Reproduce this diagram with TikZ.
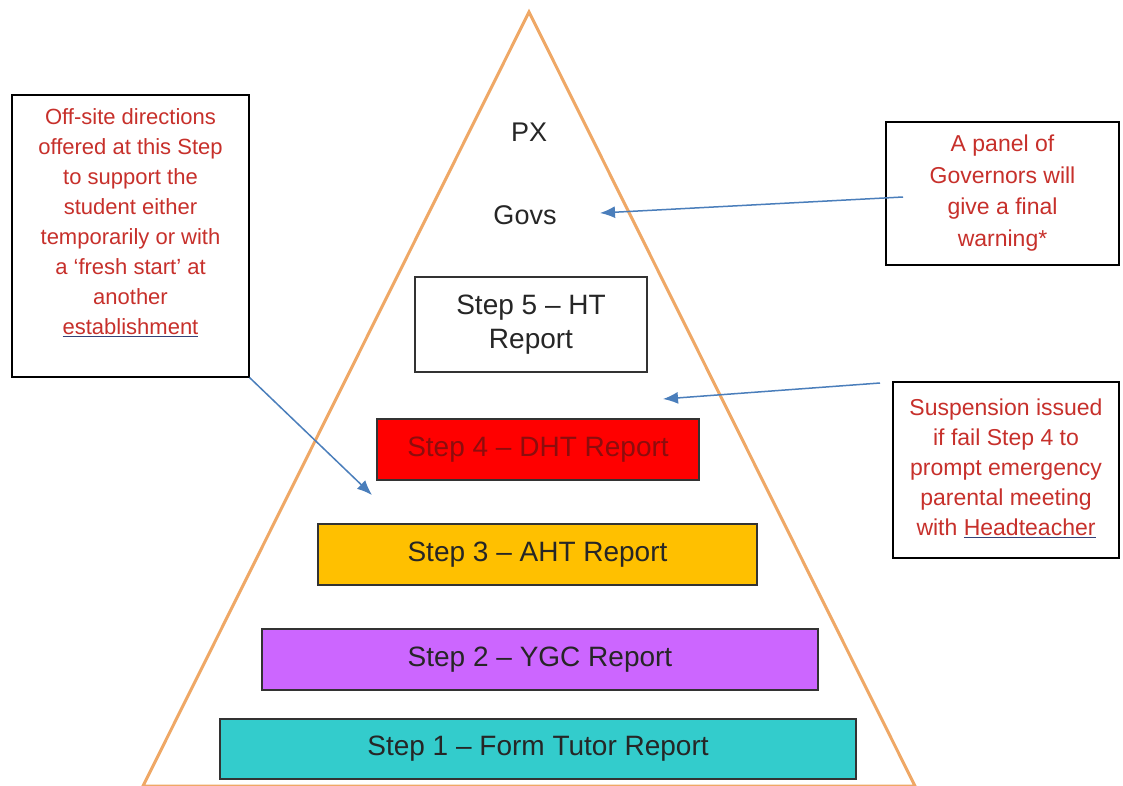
\documentclass[tikz,border=0pt]{standalone}
\usepackage{fontspec}
\setmainfont{Liberation Sans}
\usetikzlibrary{arrows.meta}

\newlength{\du}
\setlength{\du}{1pt}

\definecolor{pyramidline}{rgb}{0.937,0.659,0.400}
\definecolor{pointerblue}{rgb}{0.290,0.494,0.733}
\definecolor{notered}{rgb}{0.780,0.190,0.170}
\definecolor{spellblue}{rgb}{0.200,0.260,0.470}
\definecolor{stepfourfill}{rgb}{1.000,0.000,0.000}
\definecolor{stepthreefill}{rgb}{1.000,0.753,0.000}
\definecolor{steptwofill}{rgb}{0.800,0.400,1.000}
\definecolor{steponefill}{rgb}{0.200,0.800,0.800}
\definecolor{stepfourtext}{rgb}{0.550,0.050,0.050}

\tikzset{
  stepbox/.style={draw=black!80, line width=1.2\du, inner sep=0pt,
    font=\fontsize{28}{34}\selectfont, text=black!85, align=center},
  notebox/.style={draw=black, line width=1.2\du, inner sep=0pt},
  notetext/.style={font=\fontsize{22}{30}\selectfont, text=notered, align=center},
  leveltext/.style={font=\fontsize{27}{32}\selectfont, text=black!85},
  pointer/.style={draw=pointerblue, line width=1.5\du,
    -{Latex[length=15pt,width=12pt]}},
  pyramid/.style={draw=pyramidline, line width=3\du},
}
\newcommand{\spellmark}[1]{{\color{spellblue}\underline{\textcolor{notered}{#1}}}}

\begin{document}
\begin{tikzpicture}
\pgftransformxscale{1.000000}
\pgftransformyscale{-1.000000}
\useasboundingbox (0\du,0\du) rectangle (1123\du,786\du);
\fill[white] (0\du,0\du) rectangle (1123\du,786\du);

% pyramid outline
\draw[pyramid] (529\du,12\du)--(143\du,786\du)--(915\du,786\du)--cycle;

% levels at the top
\node[leveltext] (px) at (529\du,132\du){PX};
\node[leveltext] (govs) at (525\du,215\du){Govs};

% steps
\node[stepbox, fill=white, minimum width=232\du, minimum height=95\du] (stepfive) at (531\du,324.5\du){Step 5 – HT\\Report};
\node[stepbox, fill=stepfourfill, text=stepfourtext, minimum width=322\du, minimum height=61\du] (stepfour) at (538\du,449.5\du){Step 4 – DHT Report};
\node[stepbox, fill=stepthreefill, minimum width=439\du, minimum height=61\du] (stepthree) at (537.5\du,554.5\du){Step 3 – AHT Report};
\node[stepbox, fill=steptwofill, minimum width=556\du, minimum height=61\du] (steptwo) at (540\du,659.5\du){Step 2 – YGC Report};
\node[stepbox, fill=steponefill, minimum width=636\du, minimum height=60\du] (stepone) at (538\du,749\du){Step 1 – Form Tutor Report};

% note boxes
\node[notebox, minimum width=237\du, minimum height=282\du] (offsite) at (130.5\du,236\du){};
\node[notetext] (offsitetext) at (130.5\du,223\du){Off-site directions\\offered at this Step\\to support the\\student either\\temporarily or with\\a ‘fresh start’ at\\another\\\spellmark{establishment}};

\node[notebox, minimum width=233\du, minimum height=143\du] (panel) at (1002.5\du,193.5\du){};
\node[notetext, font=\fontsize{23}{31.5}\selectfont] (paneltext) at (1002.5\du,193\du){A panel of\\Governors will\\give a final\\warning*};

\node[notebox, minimum width=226\du, minimum height=176\du] (suspension) at (1006\du,470\du){};
\node[notetext, font=\fontsize{23}{30}\selectfont] (suspensiontext) at (1006\du,468\du){Suspension issued\\if fail Step 4 to\\prompt emergency\\parental meeting\\with \spellmark{Headteacher}};

% pointers
\coordinate (panelfrom) at (903\du,197\du);
\coordinate (govspoint) at (600\du,213\du);
\coordinate (suspensionfrom) at (880\du,383\du);
\coordinate (stepfourpoint) at (663\du,399\du);
\coordinate (stepthreepoint) at (372\du,495\du);
\draw[pointer] (panelfrom)--(govspoint);
\draw[pointer] (suspensionfrom)--(stepfourpoint);
\draw[pointer] (offsite.south east)--(stepthreepoint);
\end{tikzpicture}
\end{document}
